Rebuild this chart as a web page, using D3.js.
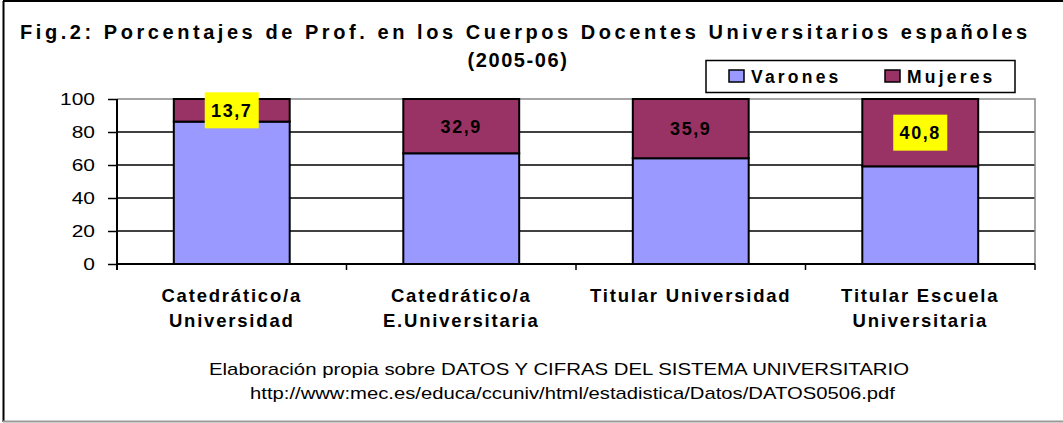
<!DOCTYPE html>
<html>
<head>
<meta charset="utf-8">
<script src="https://cdn.jsdelivr.net/npm/d3@7"></script>
<style>
  html, body { margin: 0; padding: 0; background: #fff; }
  svg { display: block; font-family: "Liberation Sans", Arial, sans-serif; }
</style>
</head>
<body>
<div id="grafico"></div>
<script>
// datos
const categorias = ["Catedrático/a Universidad", "Catedrático/a E.Universitaria", "Titular Universidad", "Titular Escuela Universitaria"];
const etiquetasX = [["Catedrático/a", "Universidad"], ["Catedrático/a", "E.Universitaria"], ["Titular Universidad"], ["Titular Escuela", "Universitaria"]];
const varones = [86.3, 67.1, 64.1, 59.2];
const mujeres = [13.7, 32.9, 35.9, 40.8];
const etiquetasMujeres = ["13,7", "32,9", "35,9", "40,8"];
const resaltadas = [true, false, false, true];
const ticksY = [0, 20, 40, 60, 80, 100];
const series = ["Varones", "Mujeres"];
const colores = { Varones: "#9999ff", Mujeres: "#993366" };

const ancho = 1063, alto = 423;
const svg = d3.select("#grafico").append("svg")
  .attr("width", ancho).attr("height", alto);

// marco exterior
svg.append("line").attr("x1", 3.5).attr("x2", 3.5).attr("y1", 1).attr("y2", 422)
  .attr("stroke", "#000").attr("stroke-width", 2);
svg.append("line").attr("x1", 3).attr("x2", ancho).attr("y1", 1).attr("y2", 1)
  .attr("stroke", "#000").attr("stroke-width", 2);
svg.append("line").attr("x1", 3).attr("x2", ancho).attr("y1", 421.5).attr("y2", 421.5)
  .attr("stroke", "#999").attr("stroke-width", 2);

// titulo
svg.append("text").attr("x", 20).attr("y", 39)
  .attr("textLength", 1007).attr("lengthAdjust", "spacing")
  .style("font-size", "20px").style("font-weight", "bold")
  .text("Fig.2: Porcentajes de Prof. en los Cuerpos Docentes Universitarios españoles");
svg.append("text").attr("x", 518).attr("y", 67).attr("text-anchor", "middle")
  .style("font-size", "20px").style("font-weight", "bold").style("letter-spacing", "1.6px")
  .text("(2005-06)");

// escalas
const x = d3.scaleBand().domain(categorias).range([117, 1035])
  .paddingInner(0.495).paddingOuter(0.2475);
const y = d3.scaleLinear().domain([0, 100]).range([264, 99]);

// rejilla
svg.append("g").selectAll("line").data(ticksY.filter(d => d > 0 && d < 100)).enter()
  .append("line")
  .attr("x1", 117).attr("x2", 1035)
  .attr("y1", d => y(d)).attr("y2", d => y(d))
  .attr("stroke", "#000").attr("stroke-width", 1.5);
// borde del area de trazado (gris)
svg.append("path")
  .attr("d", `M117,${y(100)}H1035V${y(0)}`)
  .attr("fill", "none").attr("stroke", "#888").attr("stroke-width", 1.5);

// barras apiladas
const filas = categorias.map((c, i) => ({ cat: c, Varones: varones[i], Mujeres: mujeres[i] }));
const pila = d3.stack().keys(series)(filas);
svg.append("g").selectAll("g").data(pila).enter().append("g")
  .attr("fill", d => colores[d.key])
  .selectAll("rect").data(d => d).enter().append("rect")
  .attr("x", d => x(d.data.cat))
  .attr("width", x.bandwidth())
  .attr("y", d => y(d[1]))
  .attr("height", d => y(d[0]) - y(d[1]))
  .attr("stroke", "#000").attr("stroke-width", 2);

// eje Y
const ejeY = svg.append("g").attr("transform", "translate(117,0)")
  .call(d3.axisLeft(y).tickValues(ticksY).tickSize(9).tickPadding(3));
ejeY.select(".domain").attr("stroke", "#000").attr("stroke-width", 2)
  .attr("d", `M0,${y(100)}V${y(0) + 6}`);
ejeY.selectAll(".tick line").attr("stroke", "#000").attr("stroke-width", 1.5);
// texto de ticks ensanchado como en el original
ejeY.selectAll(".tick text")
  .attr("x", 0).attr("dy", "0.36em")
  .attr("transform", "translate(-22,0) scale(1.27,1)")
  .style("font-size", "16.5px").style("font-family", "Liberation Sans, Arial, sans-serif")
  .attr("fill", "#000");

// eje X
svg.append("line").attr("x1", 117).attr("x2", 1035).attr("y1", y(0)).attr("y2", y(0))
  .attr("stroke", "#000").attr("stroke-width", 2);
const bordes = d3.range(categorias.length + 1).map(i => 117 + i * x.step());
svg.append("g").selectAll("line").data(bordes).enter().append("line")
  .attr("x1", d => d).attr("x2", d => d)
  .attr("y1", y(0)).attr("y2", y(0) + 6)
  .attr("stroke", "#000").attr("stroke-width", 1.5);

const etiq = svg.append("g").selectAll("text").data(etiquetasX).enter().append("text")
  .attr("text-anchor", "middle")
  .style("font-size", "18.5px").style("font-weight", "bold").style("letter-spacing", "1.8px")
  .attr("x", (d, i) => x(categorias[i]) + x.bandwidth() / 2);
etiq.selectAll("tspan").data(d => d).enter().append("tspan")
  .attr("x", function() { return this.parentNode.getAttribute("x"); })
  .attr("y", (d, j) => 302 + j * 25)
  .text(d => d);

// etiquetas de datos (mujeres)
const datos = svg.append("g").selectAll("g").data(pila[1]).enter().append("g")
  .attr("transform", d => `translate(${x(d.data.cat) + x.bandwidth() / 2},${(y(d[0]) + y(d[1])) / 2})`);
datos.filter((d, i) => resaltadas[i]).append("rect")
  .attr("x", -27).attr("y", -18).attr("width", 54).attr("height", 36)
  .attr("fill", "#ffff00");
datos.append("text").attr("text-anchor", "middle").attr("dy", "0.36em")
  .style("font-size", "18px").style("font-weight", "bold").style("letter-spacing", "1.6px")
  .text((d, i) => etiquetasMujeres[i]);

// leyenda
const leyenda = svg.append("g");
leyenda.append("rect").attr("x", 706).attr("y", 60.5).attr("width", 309).attr("height", 32)
  .attr("fill", "#fff").attr("stroke", "#000").attr("stroke-width", 1.5);
const elem = leyenda.selectAll("g").data(series).enter().append("g")
  .attr("transform", (d, i) => `translate(${[729, 885][i]},70)`);
elem.append("rect").attr("width", 15).attr("height", 12)
  .attr("fill", d => colores[d]).attr("stroke", "#000").attr("stroke-width", 1.5);
elem.append("text").attr("x", 22).attr("y", 12.5)
  .style("font-size", "17.5px").style("font-weight", "bold").style("letter-spacing", "3.2px")
  .text(d => d);

// fuente
svg.append("text").attr("x", 209).attr("y", 375)
  .attr("textLength", 700).attr("lengthAdjust", "spacingAndGlyphs")
  .style("font-size", "17px")
  .text("Elaboración propia sobre DATOS Y CIFRAS DEL SISTEMA UNIVERSITARIO");
svg.append("text").attr("x", 250).attr("y", 399)
  .attr("textLength", 645).attr("lengthAdjust", "spacingAndGlyphs")
  .style("font-size", "17px")
  .text("http://www:mec.es/educa/ccuniv/html/estadistica/Datos/DATOS0506.pdf");
</script>
</body>
</html>
